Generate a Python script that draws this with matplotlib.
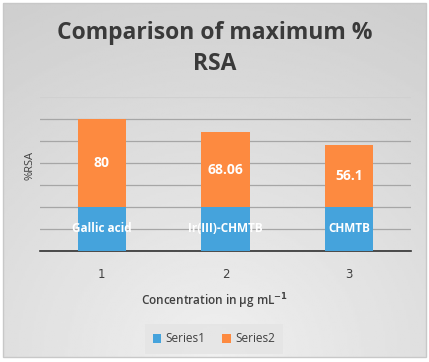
import numpy as np
import matplotlib
matplotlib.use("Agg")
import matplotlib.pyplot as plt
from matplotlib.patches import Rectangle, Patch

categories = ["1", "2", "3"]
series1 = [40, 40, 40]
series2 = [80, 68.06, 56.1]
series1_labels = ["Gallic acid", "Ir(III)-CHMTB", "CHMTB"]
series2_labels = ["80", "68.06", "56.1"]

W, H = 429, 362
fig = plt.figure(figsize=(W / 100, H / 100), dpi=100)
fig.patch.set_facecolor("white")

# background gradient panel
bg = fig.add_axes([0, 0, 1, 1], zorder=-10)
bg.set_axis_off()
yy, xx = np.mgrid[0:1:200j, 0:1:200j]
r = np.sqrt(((xx - 0.5) * 1.0) ** 2 + ((yy - 1.0) * 0.9) ** 2)
val = 0.94 - 0.13 * np.clip(r, 0, 1)
bg.imshow(val, cmap="gray", vmin=0, vmax=1, extent=[3 / W, 1 - 3 / W, 5 / H, 1 - 3 / H],
          origin="upper", aspect="auto")
bg.set_xlim(0, 1)
bg.set_ylim(0, 1)
bg.add_patch(Rectangle((3 / W, 5 / H), 1 - 6 / W, 1 - 8 / H, fill=False,
                       edgecolor="#c8c8c8", linewidth=1.0))

ax = fig.add_axes([40 / W, 1 - 251 / H, 371 / W, 154 / H])
ax.set_facecolor("none")
x = np.arange(1, len(categories) + 1)
blue = "#45a3dc"
orange = "#fd8a40"
b1 = ax.bar(x, series1, width=0.39, color=blue, label="Series1", zorder=3)
b2 = ax.bar(x, series2, width=0.39, bottom=series1, color=orange, label="Series2", zorder=3)
ax.set_xlim(0.5, 3.5)
ax.set_ylim(0, 140)
ax.set_yticks(np.arange(0, 141, 20))
ax.yaxis.grid(True, color="#a6a6a6", linewidth=0.9, zorder=0)
ax.get_ygridlines()[-1].set_color("#d0d0d0")
ax.tick_params(axis="y", length=0, labelleft=False)
ax.tick_params(axis="x", length=0, labelsize=8.5, colors="#404040", pad=12)
ax.set_xticks(x)
ax.set_xticklabels(categories)
for s in ["top", "right", "left"]:
    ax.spines[s].set_visible(False)
ax.spines["bottom"].set_color("#303030")
ax.spines["bottom"].set_linewidth(1.2)

for xi, s1, s2, l1, l2 in zip(x, series1, series2, series1_labels, series2_labels):
    ax.text(xi, s1 / 2, l1, ha="center", va="center", color="white",
            fontsize=8.5, fontweight="bold", family="Open Sans", zorder=4)
    ax.text(xi, s1 + s2 / 2, l2, ha="center", va="center", color="white",
            fontsize=10, fontweight="bold", family="Open Sans", zorder=4)

fig.text(0.5, 1 - 33 / H, "Comparison of maximum %", ha="center", va="center",
         fontsize=16.5, fontweight="bold", color="#3a3a3a", family="Open Sans")
fig.text(0.5, 1 - 64 / H, "RSA", ha="center", va="center",
         fontsize=16.5, fontweight="bold", color="#3a3a3a", family="Open Sans")

fig.text(30 / W, 1 - 165 / H, "%RSA", rotation=90, ha="center", va="center",
         fontsize=8, color="#404040", family="Open Sans")
fig.text(0.5, 1 - 301 / H, r"Concentration in µg mL$^{\mathbf{-1}}$", ha="center", va="center",
         fontsize=8.5, color="#404040", family="Open Sans", fontweight="semibold")

handles = [Patch(facecolor=blue), Patch(facecolor=orange)]
leg = fig.legend(handles, ["Series1", "Series2"], loc="center",
                 bbox_to_anchor=(214 / W, 1 - 339 / H), ncol=2, frameon=True,
                 handlelength=0.7, handleheight=0.7, handletextpad=0.4,
                 columnspacing=1.4, borderpad=0.7, fancybox=False,
                 prop={"family": "Open Sans", "size": 8.5})
leg.get_frame().set_facecolor("#e4e4e4")
leg.get_frame().set_edgecolor("none")
for t in leg.get_texts():
    t.set_color("#404040")

fig.savefig("out.png", dpi=100)
